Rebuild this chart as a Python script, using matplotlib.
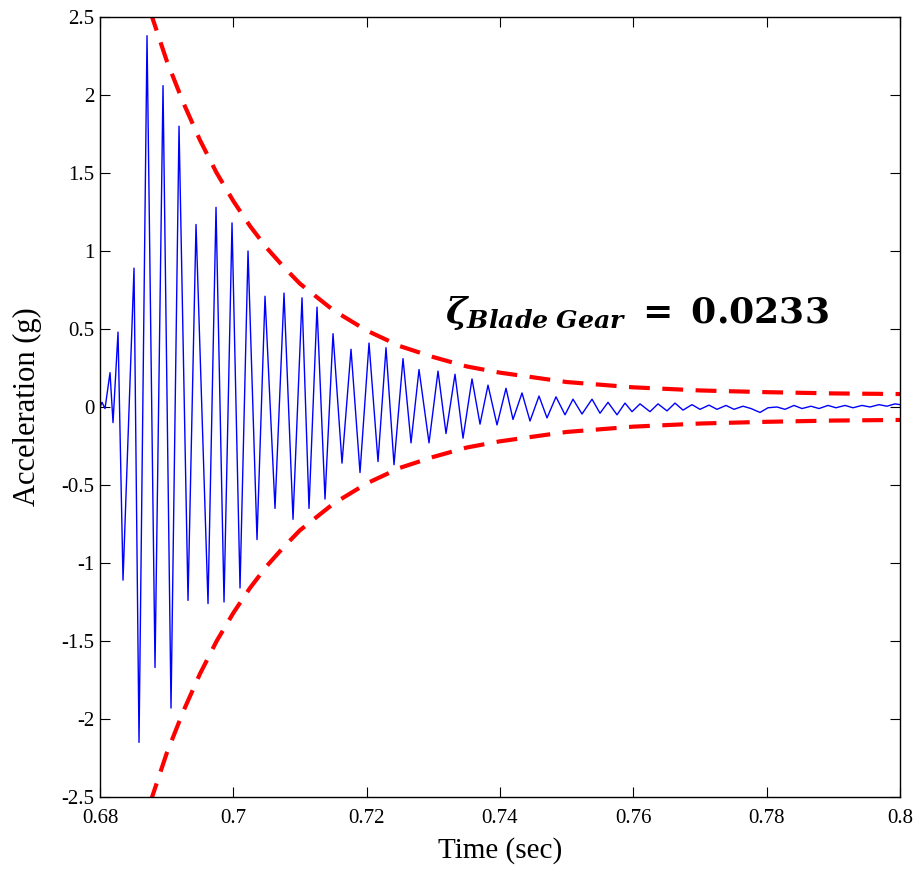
import numpy as np
import matplotlib.pyplot as plt

# tempos dos picos/vales (s)
t_sig = [0.68000, 0.68030, 0.68075, 0.68150, 0.68195, 0.68270, 0.68345, 0.68510,
         0.68585, 0.68705, 0.68825, 0.68945, 0.69065, 0.69185, 0.69320, 0.69440,
         0.69620, 0.69740, 0.69860, 0.69980, 0.70100, 0.70220, 0.70355, 0.70475,
         0.70625, 0.70760, 0.70895, 0.71030, 0.71135, 0.71255, 0.71375, 0.71495,
         0.71630, 0.71765, 0.71900, 0.72035, 0.72170, 0.72290, 0.72410, 0.72545,
         0.72665, 0.72785, 0.72935, 0.73070, 0.73190, 0.73325, 0.73445, 0.73580,
         0.73700, 0.73820, 0.73955, 0.74090, 0.74195, 0.74330, 0.74450, 0.74585,
         0.74705, 0.74840, 0.74975, 0.75095, 0.75230, 0.75380, 0.75500, 0.75620,
         0.75755, 0.75875, 0.75980, 0.76100, 0.76250, 0.76370, 0.76505, 0.76625,
         0.76745, 0.76880, 0.77000, 0.77135, 0.77255, 0.77390, 0.77510, 0.77645,
         0.77765, 0.77900, 0.78020, 0.78155, 0.78275, 0.78410, 0.78530, 0.78665,
         0.78785, 0.78920, 0.79040, 0.79175, 0.79295, 0.79430, 0.79550, 0.79685,
         0.79805, 0.79925, 0.80000]
# aceleracao (g)
a_sig = [0.0, 0.03, -0.01, 0.22, -0.10, 0.48, -1.11, 0.89,
         -2.15, 2.38, -1.67, 2.06, -1.93, 1.80, -1.24, 1.17,
         -1.26, 1.28, -1.25, 1.18, -1.16, 1.00, -0.85, 0.71,
         -0.65, 0.73, -0.72, 0.70, -0.65, 0.64, -0.59, 0.47,
         -0.36, 0.37, -0.42, 0.41, -0.35, 0.38, -0.37, 0.31,
         -0.23, 0.24, -0.23, 0.23, -0.17, 0.21, -0.20, 0.18,
         -0.11, 0.14, -0.115, 0.12, -0.08, 0.09, -0.09, 0.07,
         -0.07, 0.065, -0.05, 0.05, -0.045, 0.05, -0.04, 0.03,
         -0.05, 0.025, -0.03, 0.02, -0.03, 0.02, -0.025, 0.025,
         -0.02, 0.015, -0.015, 0.012, -0.015, 0.01, -0.015, 0.005,
         -0.01, -0.035, -0.005, 0.0, -0.015, 0.01, -0.01, 0.005,
         -0.01, 0.01, -0.005, 0.01, -0.005, 0.01, 0.0, 0.015,
         0.005, 0.02, 0.015]

# envelope
t_env = [0.6875, 0.690, 0.6925, 0.695, 0.6975, 0.700, 0.7025, 0.705, 0.7075,
         0.710, 0.715, 0.720, 0.725, 0.730, 0.735, 0.740, 0.750, 0.760,
         0.770, 0.780, 0.790, 0.800]
env_sup = [2.54, 2.22, 1.95, 1.71, 1.50, 1.32, 1.16, 1.02, 0.90,
           0.79, 0.62, 0.49, 0.39, 0.32, 0.26, 0.22, 0.16, 0.126,
           0.106, 0.095, 0.087, 0.083]
env_inf = [-v for v in env_sup]

xticks = [0.68, 0.7, 0.72, 0.74, 0.76, 0.78, 0.8]
xlabels = ['0.68', '0.7', '0.72', '0.74', '0.76', '0.78', '0.8']
yticks = [-2.5, -2, -1.5, -1, -0.5, 0, 0.5, 1, 1.5, 2, 2.5]
ylabels = ['-2.5', '-2', '-1.5', '-1', '-0.5', '0', '0.5', '1', '1.5', '2', '2.5']

plt.rcParams['font.family'] = ['Liberation Serif', 'DejaVu Serif']
plt.rcParams['mathtext.fontset'] = 'dejavuserif'

fig = plt.figure(figsize=(9.21, 8.76), dpi=100)
ax = fig.add_axes([0.1086, 0.0902, 0.8686, 0.8904])

ax.plot(t_sig, a_sig, color='#0000ff', lw=1.0)
ax.plot(t_env, env_sup, color='#ff0000', lw=3, dashes=(5, 3))
ax.plot(t_env, env_inf, color='#ff0000', lw=3, dashes=(5, 3))

ax.set_xlim(0.68, 0.8)
ax.set_ylim(-2.5, 2.5)
ax.set_xticks(xticks)
ax.set_xticklabels(xlabels)
ax.set_yticks(yticks)
ax.set_yticklabels(ylabels)
ax.tick_params(direction='in', length=7, top=True, right=True, labelsize=15)
ax.tick_params(axis='x', pad=9)
ax.tick_params(axis='y', pad=4)
for s in ax.spines.values():
    s.set_linewidth(1.0)

ax.set_xlabel('Time (sec)', fontsize=21, labelpad=6)
ax.set_ylabel('Acceleration (g)', fontsize=22, labelpad=14)

ax.text(0.7317, 0.54, r'$\mathbfit{\zeta}_{\mathbfit{Blade\ Gear}}\mathbf{\ =\ 0.0233}$',
        fontsize=26, color='black')

plt.savefig('out.png', dpi=100)
